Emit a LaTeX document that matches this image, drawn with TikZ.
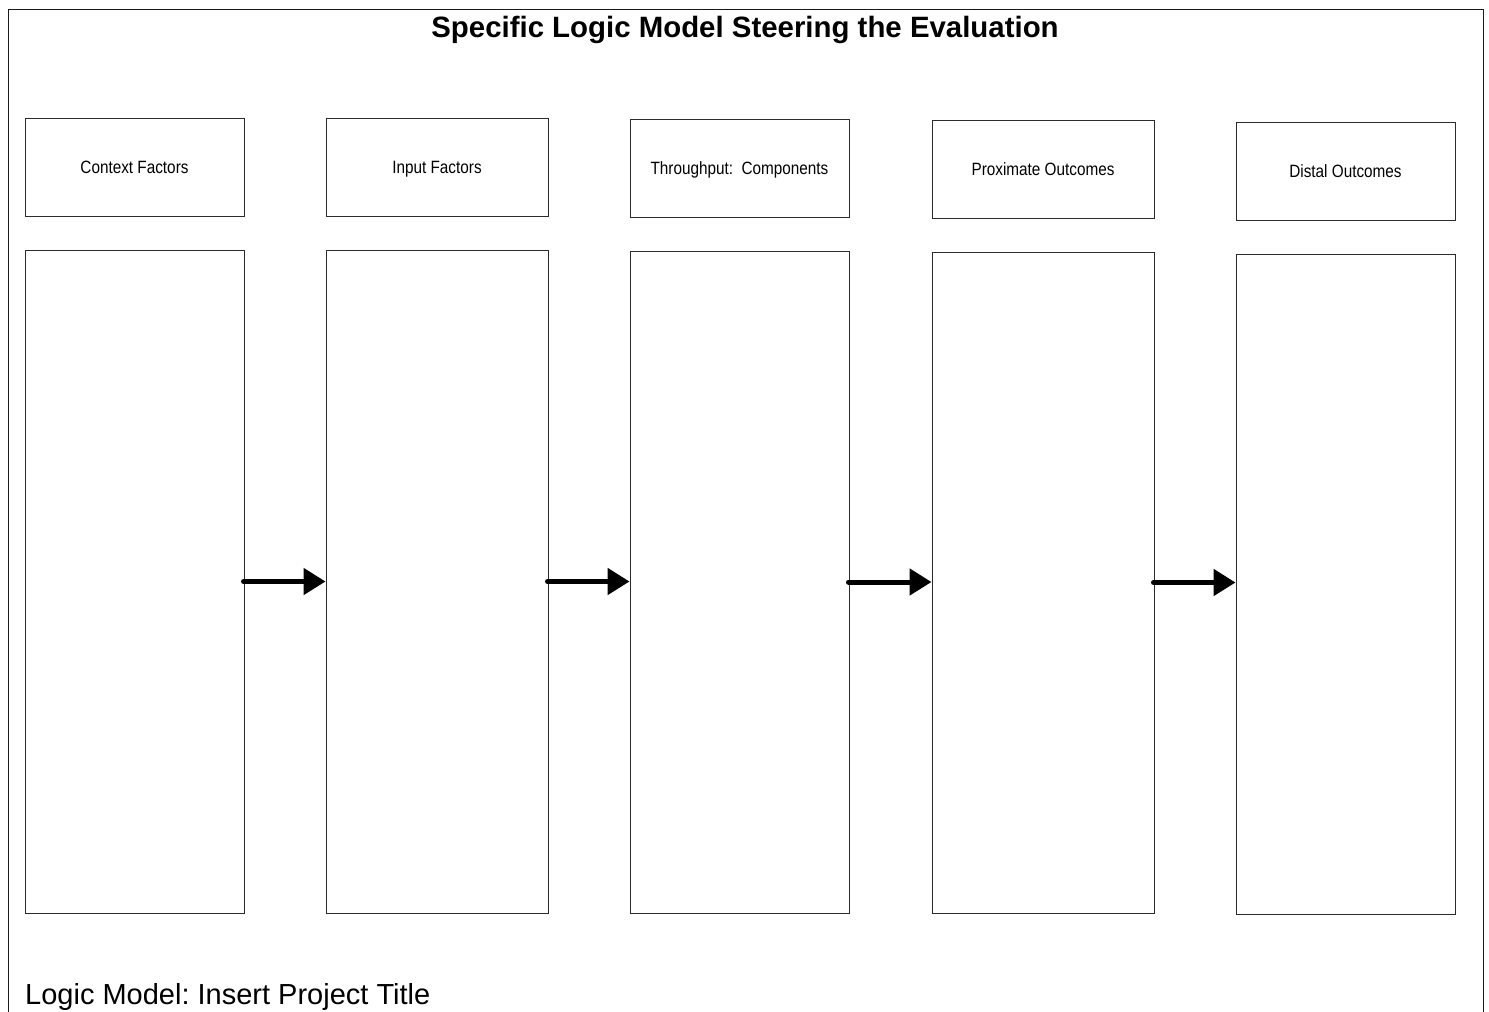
\documentclass[tikz,border=0pt]{standalone}
\usepackage{fontspec}
\setmainfont{Liberation Sans}
\newfontfamily\narrowfont[FakeStretch=0.86]{Liberation Sans}
\usepackage{tikz}
\usepackage{xcolor}
\usetikzlibrary{arrows.meta,positioning,calc}
\definecolor{lmline}{HTML}{2B2B2B}
\definecolor{lmframe}{HTML}{1A1A1A}
\frenchspacing

\begin{document}
\begin{tikzpicture}[x=1pt,y=-1pt,
  head/.style={draw=lmline,line width=1pt,minimum width=219pt,minimum height=98pt,inner sep=0pt,text height=15pt,text depth=2.2pt,align=center,font=\narrowfont\fontsize{17.8}{20}\selectfont},
  body/.style={draw=lmline,line width=1pt,minimum width=219pt,inner sep=0pt},
  arr/.style={-{Triangle[length=22pt,width=26pt]},line width=5pt,line cap=round,black}
]
\useasboundingbox (0,0) rectangle (1489,1012);
% outer frame, runs off the bottom of the page
\draw[lmframe,line width=1pt] (8,1020) -- (8,9) -- (1483,9) -- (1483,1020);

\node[font=\bfseries\fontsize{29.4}{33}\selectfont] (title) at (745,30) {Specific Logic Model Steering the Evaluation};

\node[head] (ctx) at (134.5,167) {Context Factors};
\node[head,minimum width=222pt] (inp) at (437,167.5) {Input Factors};
\node[head] (thru) at (739.5,168.5) {Throughput:\ \ Components};
\node[head,minimum width=222pt] (prox) at (1043,169.5) {Proximate Outcomes};
\node[head] (dist) at (1345.5,171) {Distal Outcomes};

\node[body,minimum height=663pt] (ctxbody) at (134.5,581.5) {};
\node[body,minimum width=222pt,minimum height=663pt] (inpbody) at (437,581.5) {};
\node[body,minimum height=662pt] (thrubody) at (739.5,582) {};
\node[body,minimum width=222pt,minimum height=661pt] (proxbody) at (1043,582.5) {};
\node[body,minimum height=660pt] (distbody) at (1345.5,584) {};

\draw[arr] ($(ctxbody.east)+(-1,0)$) -- (ctxbody.east -| inpbody.west);
\draw[arr] ($(inpbody.east)+(-1,0)$) -- (inpbody.east -| thrubody.west);
\draw[arr] ($(thrubody.east)+(-1,0)$) -- (thrubody.east -| proxbody.west);
\draw[arr] ($(proxbody.east)+(-1,0)$) -- (proxbody.east -| distbody.west);

\node[anchor=base west,inner sep=0pt,font=\fontsize{29}{33}\selectfont] (proj) at (25,1004) {Logic Model: Insert Project Title};
\end{tikzpicture}
\end{document}
